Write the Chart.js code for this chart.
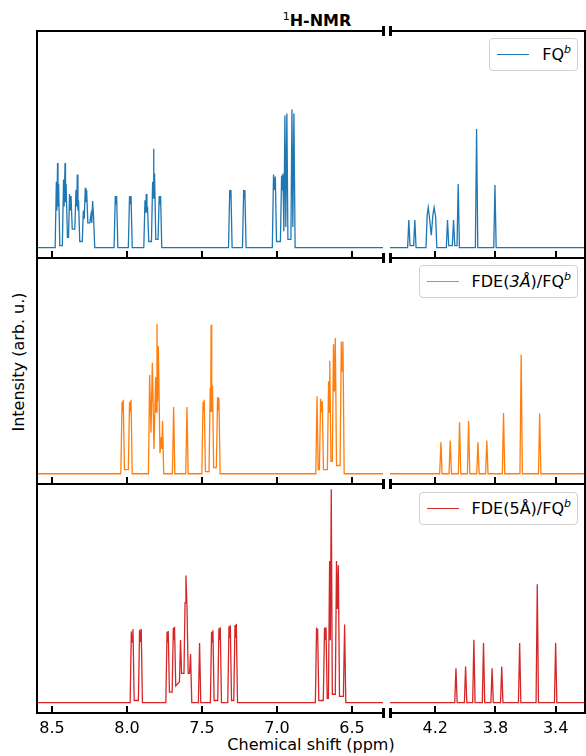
<!DOCTYPE html>
<html>
<head>
<meta charset="utf-8">
<script src="https://cdn.jsdelivr.net/npm/chart.js@4.4.1/dist/chart.umd.min.js"></script>
<style>
  body { margin: 0; background: #fff; font-family: "DejaVu Sans", sans-serif; }
  #fig { position: relative; width: 586px; height: 756px; overflow: hidden; }
  canvas { position: absolute; }
  .txt { position: absolute; color: #000; white-space: nowrap; }
  .leg {
    position: absolute; display: flex; align-items: center; box-sizing: border-box;
    height: 33px; padding: 0 6px 0 7px; background: rgba(255,255,255,0.8);
    border: 1px solid #d0d0d0; border-radius: 4px; font-size: 16px;
  }
  .leg .ln { display: inline-block; width: 32px; height: 1.3px; margin-right: 13px; }
  .leg sup { font-size: 11px; font-style: italic; vertical-align: 7px; line-height: 0; }
</style>
</head>
<body>
<div id="fig">
  <div class="txt" style="left:317px;top:11px;transform:translateX(-50%);font-weight:bold;font-size:16px;">
    <sup style="font-weight:normal;font-size:11px;vertical-align:6px;line-height:0;">1</sup>H-NMR
  </div>
  <div class="txt" style="left:18px;top:362px;transform:translate(-50%,-50%) rotate(-90deg);font-size:16px;">Intensity (arb. u.)</div>
  <div class="txt" style="left:311px;top:735px;transform:translateX(-50%);font-size:16px;">Chemical shift (ppm)</div>

  <div class="leg" style="right:8px;top:38px;">
    <span class="ln" style="background:#1f77b4"></span><span>FQ<sup>b</sup></span>
  </div>
  <div class="leg" style="right:8px;top:265px;">
    <span class="ln" style="background:#ff7f0e"></span><span>FDE(<i>3Å</i>)/FQ<sup>b</sup></span>
  </div>
  <div class="leg" style="right:8px;top:492px;">
    <span class="ln" style="background:#d62728"></span><span>FDE(5Å)/FQ<sup>b</sup></span>
  </div>
</div>

<script>
// chemical shift axis ranges (ppm) and tick labels for the two halves of the broken axis
const leftRange = [6.293, 8.6];
const rightRange = [3.205, 4.5];
const leftTicks = [8.5, 8.0, 7.5, 7.0, 6.5];
const rightTicks = [4.2, 3.8, 3.4];

// FQ spectrum (shift in ppm, intensity in arb. u.)
const fqShift = [8.70,
  8.479, 8.471, 8.467, 8.463, 8.460, 8.456, 8.448, 8.431,
  8.423, 8.419, 8.413, 8.410, 8.406, 8.397, 8.390,
  8.383, 8.379, 8.373, 8.365, 8.348,
  8.340, 8.336, 8.331, 8.327, 8.323, 8.315, 8.298,
  8.291, 8.285, 8.278, 8.274, 8.269, 8.261, 8.248, 8.240, 8.235, 8.229, 8.223, 8.215,
  8.086, 8.078, 8.074, 8.069, 8.061,
  7.991, 7.983, 7.978, 7.973, 7.965,
  7.888, 7.880, 7.876, 7.871, 7.867, 7.863, 7.855, 7.837,
  7.829, 7.826, 7.823, 7.820, 7.816, 7.808, 7.793, 7.785, 7.780, 7.776, 7.768,
  7.323, 7.315, 7.311, 7.307, 7.299,
  7.230, 7.222, 7.218, 7.214, 7.206,
  7.031, 7.023, 7.018, 7.011, 7.003, 6.977, 6.969, 6.964, 6.960, 6.954,
  6.947, 6.941, 6.934, 6.927, 6.907, 6.900, 6.894, 6.887, 6.879,
  4.383, 4.375, 4.367, 4.343, 4.335, 4.327,
  4.261, 4.253, 4.246, 4.237, 4.226, 4.215, 4.207, 4.197, 4.189,
  4.126, 4.118, 4.110, 4.086, 4.078, 4.070, 4.055, 4.047, 4.039,
  3.933, 3.925, 3.917,
  3.811, 3.803, 3.795, 3.100];
const fqInt = [0,
  0, 32, 18, 41, 20, 31, 1, 1,
  33, 20, 41, 22, 31, 5, 5,
  26, 18, 25, 9, 9,
  28, 20, 35.5, 18, 23, 3, 3,
  18, 14, 29, 22, 28, 12, 12, 16, 12, 22.6, 15, 0,
  0, 25, 21, 25, 0,
  0, 25, 21, 25, 0,
  0, 23, 17, 26, 17, 20, 3, 3,
  32, 24, 48, 28, 36, 4, 4, 25, 21, 25, 0,
  0, 28, 24, 28, 0,
  0, 28, 24, 28, 0,
  0, 35.4, 28, 34.5, 3, 3, 35, 28, 36, 8,
  64, 10, 65, 4, 4, 67, 10, 65, 0,
  0, 13.4, 1, 1, 13.4, 0,
  0, 16, 19.5, 14, 6, 16, 19.5, 15, 0,
  0, 13.4, 1, 1, 13.4, 1, 1, 30.8, 0,
  0, 57.5, 0,
  0, 30.4, 0, 0];

// FDE(3Å)/FQ spectrum
const fde3Shift = [8.70,
  8.041, 8.033, 8.029, 8.025, 8.017, 7.991, 7.983, 7.978, 7.973, 7.965,
  7.857, 7.849, 7.840, 7.831, 7.820, 7.809, 7.805, 7.800, 7.796, 7.791,
  7.780, 7.771, 7.767, 7.763, 7.755,
  7.697, 7.689, 7.681,
  7.608, 7.600, 7.592,
  7.501, 7.493, 7.489, 7.485, 7.477, 7.453, 7.445, 7.442, 7.439, 7.435, 7.430,
  7.422, 7.404, 7.396, 7.392, 7.387, 7.379,
  6.741, 6.733, 6.725, 6.717, 6.709, 6.703, 6.698, 6.690, 6.664, 6.656, 6.652, 6.648,
  6.640, 6.631, 6.623, 6.617, 6.611, 6.603, 6.579, 6.571, 6.566, 6.560, 6.552,
  4.170, 4.162, 4.154, 4.108, 4.100, 4.092, 4.046, 4.038, 4.030,
  3.986, 3.978, 3.970, 3.924, 3.916, 3.908, 3.865, 3.857, 3.849,
  3.754, 3.746, 3.738, 3.637, 3.629, 3.621, 3.514, 3.506, 3.498, 3.100];
const fde3Int = [0,
  0, 35, 30, 36, 2, 2, 35, 30, 36, 0,
  0, 48, 20, 54, 12, 47, 30, 73, 35, 62,
  10, 18, 12, 25.6, 0,
  0, 32.5, 0,
  0, 32.5, 0,
  0, 35, 30, 36, 1, 1, 42, 30, 72.5, 30, 43,
  3, 3, 37.4, 31, 37, 0,
  0, 37.7, 2, 2, 36.5, 30, 35.3, 2, 2, 45, 30, 55,
  6, 6, 63, 40, 66, 4, 4, 64.4, 50, 64.4, 0,
  0, 15.3, 0, 0, 16.2, 0, 0, 25, 0,
  0, 25.7, 0, 0, 15.3, 0, 0, 16.2, 0,
  0, 29.6, 0, 0, 58, 0, 0, 29.3, 0, 0];

// FDE(5Å)/FQ spectrum
const fde5Shift = [8.70,
  7.979, 7.971, 7.966, 7.960, 7.952, 7.924, 7.916, 7.911, 7.905, 7.897,
  7.741, 7.733, 7.729, 7.725, 7.717, 7.699, 7.691, 7.687, 7.683, 7.675,
  7.650, 7.643, 7.636, 7.620, 7.613, 7.607, 7.600, 7.592, 7.583, 7.576, 7.568,
  7.524, 7.516, 7.508,
  7.444, 7.436, 7.432, 7.427, 7.419, 7.395, 7.387, 7.383, 7.378, 7.370,
  7.328, 7.320, 7.316, 7.311, 7.303, 7.288, 7.280, 7.276, 7.271, 7.263,
  6.744, 6.736, 6.733, 6.729, 6.721, 6.691, 6.683, 6.678, 6.673, 6.665,
  6.657, 6.649, 6.644, 6.638, 6.631, 6.611, 6.603, 6.597, 6.591, 6.583, 6.557, 6.549, 6.541,
  4.070, 4.062, 4.054, 4.006, 3.998, 3.990, 3.951, 3.943, 3.935,
  3.887, 3.879, 3.871, 3.830, 3.822, 3.814, 3.766, 3.758, 3.750,
  3.647, 3.639, 3.631, 3.530, 3.522, 3.514, 3.408, 3.400, 3.392, 3.100];
const fde5Int = [0,
  0, 34.2, 29, 35.4, 1, 1, 35, 29, 35.4, 0,
  0, 34, 29, 34.4, 5, 5, 36, 30, 36.4, 8,
  10, 30, 14, 14, 48, 61, 46, 14, 14, 23.3, 0,
  0, 28.6, 0,
  0, 34, 29, 34.7, 1, 1, 35.7, 30, 36.2, 0,
  0, 36.7, 31, 37.1, 1, 1, 37.3, 31, 37.8, 0,
  0, 36, 30, 35.5, 1, 1, 36, 30, 36.2, 2,
  2, 68, 30, 102.5, 4, 4, 68, 45, 66, 3, 3, 37.5, 0,
  0, 16.5, 0, 0, 17.3, 0, 0, 30.2, 0,
  0, 28.6, 0, 0, 16.5, 0, 0, 17.3, 0,
  0, 28.6, 0, 0, 56.8, 0, 0, 28.6, 0, 0];

const rows = [
  { top: 31,  bottom: 258, shift: fqShift,   ints: fqInt,   color: '#1f77b4' },
  { top: 258, bottom: 484, shift: fde3Shift, ints: fde3Int, color: '#ff7f0e' },
  { top: 484, bottom: 713, shift: fde5Shift, ints: fde5Int, color: '#d62728' }
];
const cols = [
  { left: 37,  right: 383, range: leftRange,  ticks: leftTicks,  side: 'left' },
  { left: 390, right: 585, range: rightRange, ticks: rightTicks, side: 'right' }
];

// spines, inward ticks, break marks and (bottom row) tick labels
const framePlugin = {
  id: 'frame',
  afterDraw(chart, args, opts) {
    const { ctx, chartArea: a } = chart;
    const xs = chart.scales.x;
    ctx.save();
    ctx.strokeStyle = '#000';
    ctx.fillStyle = '#000';
    ctx.lineWidth = 2;
    ctx.beginPath();
    ctx.moveTo(a.left, a.top); ctx.lineTo(a.right, a.top);
    ctx.moveTo(a.left, a.bottom); ctx.lineTo(a.right, a.bottom);
    if (opts.side === 'left') { ctx.moveTo(a.left, a.top - 1); ctx.lineTo(a.left, a.bottom + 1); }
    else { ctx.moveTo(a.right, a.top - 1); ctx.lineTo(a.right, a.bottom + 1); }
    ctx.stroke();

    opts.ticks.forEach(t => {
      const px = Math.round(xs.getPixelForValue(t));
      ctx.fillRect(px - 1, a.bottom - 7, 2, 7);
    });

    const bx = opts.side === 'left' ? a.right + 0.5 : a.left + 0.5;
    [a.top, a.bottom].forEach(y => ctx.fillRect(bx - 1.5, y - 5, 3, 10));

    if (opts.labels) {
      ctx.font = '16px "DejaVu Sans"';
      ctx.textAlign = 'center';
      ctx.textBaseline = 'top';
      opts.ticks.forEach(t => {
        ctx.fillText(t.toFixed(1), xs.getPixelForValue(t), a.bottom + 8);
      });
    }
    ctx.restore();
  }
};

const fig = document.getElementById('fig');
const pad = 10;
rows.forEach((row, ri) => {
  const last = ri === rows.length - 1;
  cols.forEach(col => {
    const w = col.right - col.left + 2 * pad;
    const padB = last ? 35 : pad;
    const h = row.bottom - row.top + pad + padB;
    const cv = document.createElement('canvas');
    cv.width = w; cv.height = h;
    cv.style.left = (col.left - pad) + 'px';
    cv.style.top = (row.top - pad) + 'px';
    cv.style.width = w + 'px'; cv.style.height = h + 'px';
    fig.appendChild(cv);

    new Chart(cv.getContext('2d'), {
      type: 'line',
      data: {
        datasets: [{
          data: row.shift.map((s, i) => ({ x: s, y: row.ints[i] })),
          borderColor: row.color,
          borderWidth: 1.3,
          pointRadius: 0,
          tension: 0,
          fill: false
        }]
      },
      options: {
        responsive: false,
        animation: false,
        events: [],
        layout: { padding: { left: pad, right: pad, top: pad, bottom: padB } },
        plugins: {
          legend: { display: false },
          tooltip: { enabled: false },
          frame: { side: col.side, ticks: col.ticks, labels: last }
        },
        scales: {
          x: { type: 'linear', reverse: true, min: col.range[0], max: col.range[1], display: false },
          y: { min: -5, max: 105, display: false }
        }
      },
      plugins: [framePlugin]
    });
  });
});
</script>
</body>
</html>
